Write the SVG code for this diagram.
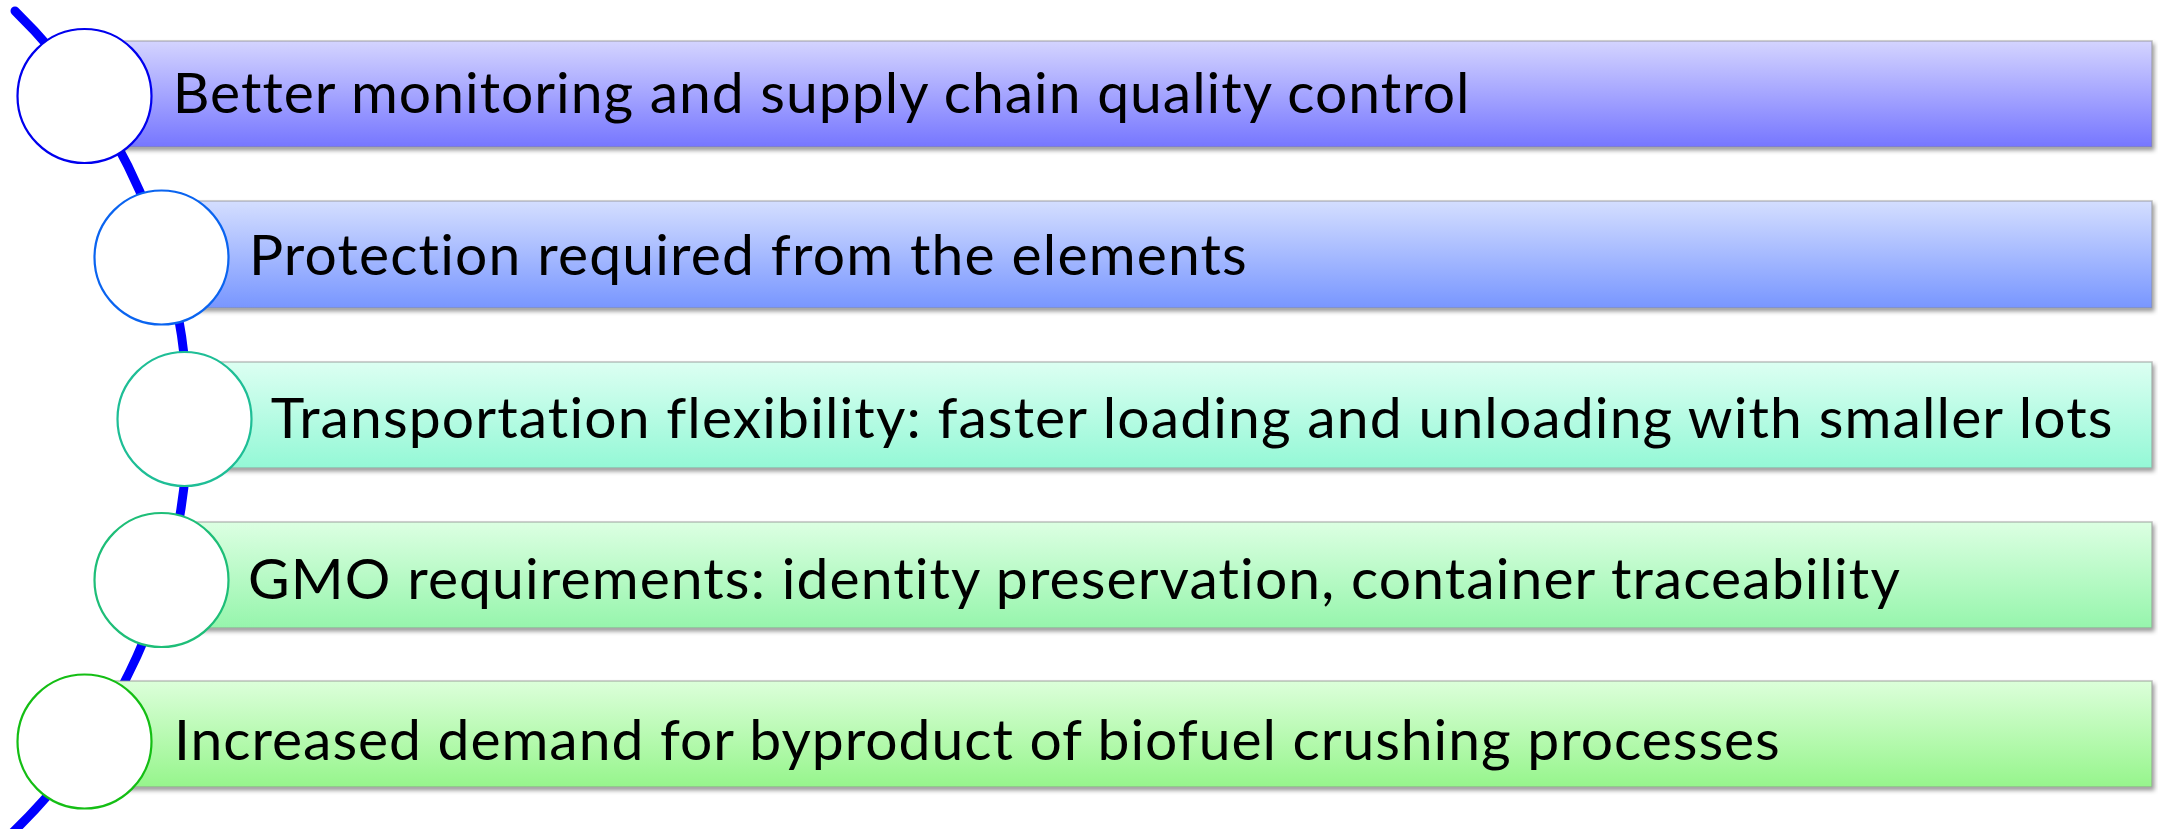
<svg xmlns="http://www.w3.org/2000/svg" width="2158" height="829" viewBox="0 0 2158 829">
<style>
.bar{stroke:#8c8c8c;stroke-opacity:0.55;stroke-width:1.5;filter:url(#sh)}
.node{fill:#ffffff;stroke-width:2.2}
.lbl{font-family:Lato,"Open Sans","Liberation Sans",sans-serif;font-size:57px;fill:#000000;letter-spacing:0.2px;font-variant-ligatures:none;font-feature-settings:"liga" 0,"clig" 0,"dlig" 0}
.arc{fill:none;stroke:#0000ff;stroke-width:9;stroke-linecap:round}
</style>
<defs>
<filter id="sh" x="-2%" y="-20%" width="104%" height="150%">
<feDropShadow dx="2" dy="3" stdDeviation="2" flood-color="#000000" flood-opacity="0.4"/>
</filter>
<linearGradient id="g1" x1="0" y1="0" x2="0" y2="1"><stop offset="0" stop-color="#d4d4ff"/><stop offset="1" stop-color="#7676ff"/></linearGradient>
<linearGradient id="g2" x1="0" y1="0" x2="0" y2="1"><stop offset="0" stop-color="#d4deff"/><stop offset="1" stop-color="#7896ff"/></linearGradient>
<linearGradient id="g3" x1="0" y1="0" x2="0" y2="1"><stop offset="0" stop-color="#dcfff2"/><stop offset="1" stop-color="#94f8d6"/></linearGradient>
<linearGradient id="g4" x1="0" y1="0" x2="0" y2="1"><stop offset="0" stop-color="#dcffe2"/><stop offset="1" stop-color="#96f5ac"/></linearGradient>
<linearGradient id="g5" x1="0" y1="0" x2="0" y2="1"><stop offset="0" stop-color="#dcffda"/><stop offset="1" stop-color="#96f58c"/></linearGradient>
</defs>
<rect width="2158" height="829" fill="#ffffff"/>
<g id="connectors">
<path class="arc" d="M 15 11 A 572 572 0 0 1 10 835"/>
</g>
<g id="node1">
<rect class="bar" x="84" y="41" width="2068" height="106" fill="url(#g1)"/>
<circle class="node" cx="84.5" cy="96" r="67" stroke="#0000ee"/>
<text class="lbl" x="172.7" y="113" textLength="1297" lengthAdjust="spacing">Better monitoring and supply chain quality control</text>
</g>
<g id="node2">
<rect class="bar" x="161" y="201" width="1991" height="107" fill="url(#g2)"/>
<circle class="node" cx="161.5" cy="257.5" r="67" stroke="#0a64f0"/>
<text class="lbl" x="249" y="275" textLength="998" lengthAdjust="spacing">Protection required from the elements</text>
</g>
<g id="node3">
<rect class="bar" x="184" y="362" width="1968" height="106" fill="url(#g3)"/>
<circle class="node" cx="184.5" cy="419" r="67" stroke="#1ebe96"/>
<text class="lbl" x="270.7" y="438" textLength="1842" lengthAdjust="spacing">Transportation flexibility: faster loading and unloading with smaller lots</text>
</g>
<g id="node4">
<rect class="bar" x="161" y="522" width="1991" height="106" fill="url(#g4)"/>
<circle class="node" cx="161.5" cy="580" r="67" stroke="#1ebe78"/>
<text class="lbl" x="248" y="599" textLength="1652" lengthAdjust="spacing">GMO requirements: identity preservation, container traceability</text>
</g>
<g id="node5">
<rect class="bar" x="84" y="681" width="2068" height="106" fill="url(#g5)"/>
<circle class="node" cx="84.5" cy="741.5" r="67" stroke="#14be14"/>
<text class="lbl" x="174" y="760" textLength="1606" lengthAdjust="spacing">Increased demand for byproduct of biofuel crushing processes</text>
</g>
</svg>
